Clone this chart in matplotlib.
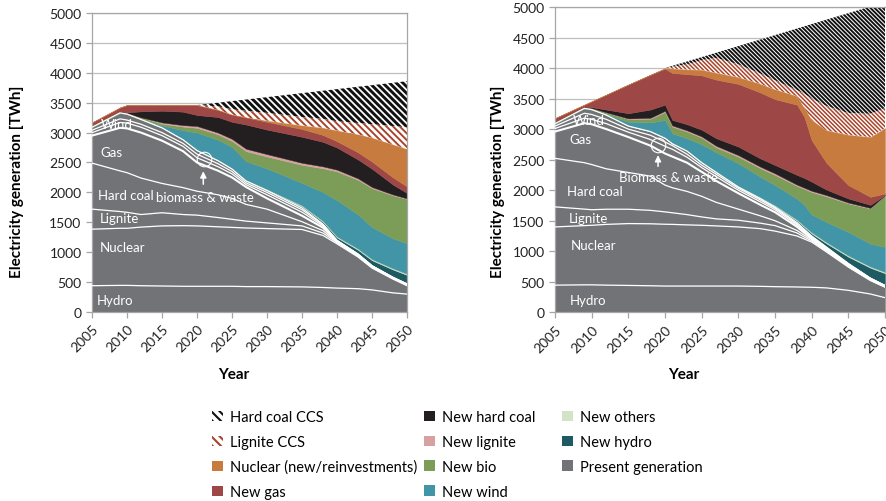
import numpy as np
import matplotlib.pyplot as plt
from matplotlib.patches import Patch

plt.rcParams['font.family'] = ['Lato', 'DejaVu Sans']
plt.rcParams['hatch.linewidth'] = 1.5

# ---- left scenario -------------------------------------------------------
years_l = [2005, 2009, 2010, 2012, 2015, 2018, 2020, 2023, 2025, 2027, 2030,
           2035, 2038, 2040, 2043, 2045, 2048, 2050]

# present generation, split by the white lines
l_hydro = [440, 445, 445, 440, 435, 430, 430, 430, 430, 425, 425, 420, 410, 400, 390, 370, 320, 300]
l_nuclear = [945, 955, 955, 980, 1005, 1014, 1010, 995, 985, 980, 970, 960, 870, 740, 530, 365, 230, 140]
l_lignite = [335, 280, 267, 210, 220, 186, 180, 155, 135, 115, 95, 60, 40, 20, 15, 13, 8, 8]
l_hardcoal = [770, 680, 663, 610, 490, 450, 400, 380, 350, 280, 230, 70, 40, 10, 10, 7, 6, 6]
l_gas = [460, 720, 740, 760, 715, 610, 480, 403, 350, 290, 180, 100, 50, 10, 10, 7, 6, 6]
l_biomass = [50, 90, 90, 90, 85, 80, 80, 67, 60, 40, 60, 60, 30, 10, 7, 6, 4, 4]
l_others = [40, 60, 50, 50, 50, 50, 60, 50, 40, 30, 40, 40, 20, 5, 4, 4, 3, 3]
l_wind = [50, 100, 100, 80, 80, 60, 60, 50, 40, 30, 30, 30, 10, 5, 4, 3, 3, 3]

l_new_hydro = [0, 0, 0, 0, 0, 0, 0, 0, 0, 5, 10, 25, 35, 45, 70, 90, 130, 150]
l_new_others = [0, 0, 0, 5, 8, 10, 12, 12, 14, 15, 15, 18, 18, 18, 20, 20, 20, 20]
l_new_wind = [0, 0, 0, 5, 32, 150, 288, 338, 356, 310, 345, 377, 480, 607, 570, 535, 500, 510]
l_new_bio = [20, 20, 20, 25, 30, 60, 80, 90, 100, 170, 200, 300, 400, 480, 580, 650, 720, 740]
l_new_lignite = [0, 0, 0, 0, 20, 25, 30, 30, 35, 40, 40, 35, 32, 30, 25, 20, 15, 10]
l_new_hardcoal = [0, 0, 10, 100, 196, 225, 184, 260, 285, 405, 410, 435, 410, 370, 315, 305, 165, 90]
l_new_gas = [60, 70, 120, 105, 94, 110, 166, 120, 120, 120, 130, 130, 115, 105, 120, 120, 120, 110]
l_nuclear_new = [0, 0, 0, 0, 0, 0, 0, 0, 0, 0, 20, 60, 120, 180, 300, 400, 550, 625]
l_lignite_ccs = [0, 0, 0, 0, 0, 0, 0, 60, 90, 110, 130, 140, 150, 155, 190, 225, 310, 365]
l_hardcoal_ccs = [0, 0, 0, 0, 0, 0, 0, 60, 137, 188, 263, 400, 470, 537, 607, 653, 723, 770]

# ---- right scenario ------------------------------------------------------
years_r = [2005, 2009, 2010, 2012, 2015, 2018, 2020, 2021, 2023, 2025, 2027,
           2030, 2033, 2035, 2038, 2039, 2040, 2042, 2045, 2048, 2050]

r_hydro = [445, 450, 450, 445, 440, 435, 430, 430, 430, 430, 430, 430, 425, 420, 415, 412, 410, 400, 360, 300, 240]
r_nuclear = [953, 970, 975, 995, 1013, 1015, 1012, 1010, 1002, 995, 985, 968, 945, 910, 835, 788, 740, 590, 380, 220, 170]
r_lignite = [329, 270, 255, 248, 235, 220, 203, 190, 168, 137, 115, 110, 90, 90, 50, 30, 20, 15, 15, 12, 8]
r_hardcoal = [795, 760, 740, 662, 602, 560, 438, 410, 380, 338, 270, 182, 120, 80, 40, 30, 20, 15, 13, 8, 6]
r_gas = [438, 647, 660, 650, 580, 500, 517, 510, 470, 400, 350, 260, 180, 140, 60, 40, 20, 20, 12, 8, 6]
r_biomass = [50, 83, 80, 90, 80, 100, 120, 120, 90, 70, 70, 50, 50, 40, 30, 25, 15, 12, 8, 5, 4]
r_others = [40, 80, 80, 70, 50, 70, 70, 60, 50, 40, 40, 30, 30, 25, 20, 20, 15, 10, 7, 4, 3]
r_wind = [40, 80, 80, 70, 50, 60, 60, 30, 50, 40, 30, 20, 20, 15, 20, 15, 10, 8, 5, 3, 3]

r_new_hydro = [0, 0, 0, 0, 0, 0, 0, 0, 0, 0, 0, 5, 10, 15, 30, 35, 40, 60, 110, 170, 200]
r_new_others = [0, 0, 0, 5, 8, 10, 12, 12, 12, 14, 15, 15, 15, 18, 18, 18, 20, 20, 20, 20, 20]
r_new_wind = [0, 0, 0, 10, 62, 140, 288, 158, 198, 286, 315, 370, 335, 330, 342, 347, 290, 330, 386, 374, 409]
r_new_bio = [20, 20, 25, 25, 45, 60, 130, 110, 110, 110, 80, 109, 140, 167, 210, 260, 370, 420, 466, 576, 850]
r_new_lignite = [0, 0, 0, 5, 10, 15, 20, 20, 20, 20, 25, 25, 25, 25, 20, 20, 20, 20, 15, 10, 0]
r_new_hardcoal = [0, 0, 15, 45, 85, 135, 100, 90, 100, 110, 125, 140, 135, 137, 160, 160, 150, 90, 67, 50, 0]
r_new_gas = [70, 40, 95, 245, 470, 570, 590, 770, 820, 890, 960, 1026, 1080, 1078, 1150, 1000, 680, 440, 219, 131, 27]
r_nuclear_new = [0, 0, 0, 0, 0, 0, 10, 70, 75, 90, 110, 110, 140, 160, 140, 150, 330, 530, 822, 979, 1069]
r_lignite_ccs = [0, 0, 0, 0, 0, 0, 0, 30, 85, 160, 246, 210, 170, 150, 100, 230, 350, 400, 357, 380, 329]
r_hardcoal_ccs = [0, 0, 0, 0, 0, 0, 0, 16, 48, 50, 86, 300, 558, 740, 1008, 1104, 1220, 1412, 1638, 1758, 1736]

GRAY = '#717376'
# face, edge (= hatch colour), hatched?
new_styles = [
    ('#1d5a62', '#1d5a62', False),   # new hydro
    ('#d3e4c5', '#d3e4c5', False),   # new others
    ('#4195a7', '#4195a7', False),   # new wind
    ('#7b9d57', '#7b9d57', False),   # new bio
    ('#d8a1a1', '#d8a1a1', False),   # new lignite
    ('#231f20', '#231f20', False),   # new hard coal
    ('#9d4747', '#9d4747', False),   # new gas
    ('#c87b3f', '#c87b3f', False),   # nuclear new
    ('white', '#a8442c', True),      # lignite CCS
    ('white', '#111111', True),      # hard coal CCS
]


def draw_panel(ax, years, present, new, hatch, hatch_lw):
    layers = np.array(present + new, dtype=float)
    tops = np.cumsum(layers, axis=0)
    bottoms = np.vstack([np.zeros(len(years)), tops[:-1]])
    n_p = len(present)
    for k in range(len(layers)):
        if k < n_p:
            fc, ec, hatched = GRAY, GRAY, False
        else:
            fc, ec, hatched = new_styles[k - n_p]
        if hatched:
            coll = ax.fill_between(years, bottoms[k], tops[k], facecolor=fc,
                                   edgecolor=ec, hatch=hatch, linewidth=0,
                                   zorder=2)
            if hasattr(coll, 'set_hatch_linewidth'):
                coll.set_hatch_linewidth(hatch_lw[k - n_p - 8])
        else:
            ax.fill_between(years, bottoms[k], tops[k], facecolor=fc,
                            edgecolor=ec, linewidth=0.3, zorder=2)
    # white boundaries inside the present generation
    for k in range(n_p):
        lw = 1.5 if k == 4 else 0.9
        ax.plot(years, tops[k], color='white', lw=lw, zorder=3,
                solid_joinstyle='round')

    ax.set_xlim(2005, 2050)
    ax.set_ylim(0, 5000)
    ax.set_xticks(range(2005, 2051, 5))
    ax.set_yticks(range(0, 5001, 500))
    ax.grid(axis='y', color='#bfbfbf', lw=0.9, zorder=0)
    ax.set_axisbelow(True)
    for s in ax.spines.values():
        s.set_color('#a6a6a6')
        s.set_linewidth(0.9)
    ax.tick_params(axis='both', colors='#a6a6a6', labelcolor='#222222',
                   labelsize=10, length=4, width=0.9)
    plt.setp(ax.get_xticklabels(), rotation=45, ha='right',
             rotation_mode='anchor')
    ax.set_ylabel('Electricity generation [TWh]', fontsize=11,
                  fontweight='bold')
    ax.set_xlabel('Year', fontsize=11, fontweight='bold')


def label_layers(ax, spots, circle, arrow, bio_text):
    for txt, x, y in spots:
        ax.text(x, y, txt, color='white', fontsize=9.5, va='center',
                ha='left', zorder=4)
    ax.plot(circle[0], circle[1], 'o', ms=10.5, mfc='none', mec='white',
            mew=0.8, zorder=4)
    ax.annotate('', xy=(arrow[0], arrow[1]), xytext=(arrow[0], arrow[2]),
                arrowprops=dict(arrowstyle='-|>', color='white', lw=1.1,
                                mutation_scale=9), zorder=4)
    ax.text(bio_text[1], bio_text[2], bio_text[0], color='white',
            fontsize=9.5, va='center', ha='center', zorder=4)


fig = plt.figure(figsize=(8.87, 5.02), dpi=100)
axl = fig.add_axes([92 / 887, 189 / 502, 315 / 887, 299 / 502])
axr = fig.add_axes([555 / 887, 188.7 / 502, 330 / 887, 305.3 / 502])

draw_panel(axl, years_l,
           [l_hydro, l_nuclear, l_lignite, l_hardcoal, l_gas, l_biomass, l_others, l_wind],
           [l_new_hydro, l_new_others, l_new_wind, l_new_bio, l_new_lignite,
            l_new_hardcoal, l_new_gas, l_nuclear_new, l_lignite_ccs, l_hardcoal_ccs],
           '\\' * 5, (1.4, 2.1))
draw_panel(axr, years_r,
           [r_hydro, r_nuclear, r_lignite, r_hardcoal, r_gas, r_biomass, r_others, r_wind],
           [r_new_hydro, r_new_others, r_new_wind, r_new_bio, r_new_lignite,
            r_new_hardcoal, r_new_gas, r_nuclear_new, r_lignite_ccs, r_hardcoal_ccs],
           '\\' * 8, (1.1, 1.4))

label_layers(axl, [('Wind', 2006.3, 3140), ('Gas', 2006.2, 2680),
                   ('Hard coal', 2005.9, 1960), ('Lignite', 2006.1, 1570),
                   ('Nuclear', 2006.1, 1090), ('Hydro', 2005.7, 200)],
             (2021.0, 2560), (2020.9, 2400, 2090),
             ('biomass & waste', 2021.1, 1925))
label_layers(axr, [('Wind', 2007.4, 3150), ('Gas', 2007.0, 2840),
                   ('Hard coal', 2006.6, 1985), ('Lignite', 2006.9, 1545),
                   ('Nuclear', 2007.2, 1100), ('Hydro', 2007.0, 200)],
             (2019.05, 2740), (2019.05, 2620, 2345),
             ('Biomass & waste', 2020.5, 2215))

axl.yaxis.set_label_coords(-0.215, 0.44)
axr.yaxis.set_label_coords(-0.15, 0.43)
axl.xaxis.set_label_coords(0.45, -0.185)
axr.xaxis.set_label_coords(0.39, -0.18)
axr.spines['right'].set_visible(False)

legend_cols = [
    (212, [Patch(facecolor='white', edgecolor='#111111', hatch='\\' * 4, lw=0, label='Hard coal CCS'),
           Patch(facecolor='white', edgecolor='#a8442c', hatch='\\' * 4, lw=0, label='Lignite CCS'),
           Patch(facecolor='#c87b3f', label='Nuclear (new/reinvestments)'),
           Patch(facecolor='#9d4747', label='New gas')]),
    (424, [Patch(facecolor='#231f20', label='New hard coal'),
           Patch(facecolor='#d8a1a1', label='New lignite'),
           Patch(facecolor='#7b9d57', label='New bio'),
           Patch(facecolor='#4195a7', label='New wind')]),
    (562, [Patch(facecolor='#d3e4c5', label='New others'),
           Patch(facecolor='#1d5a62', label='New hydro'),
           Patch(facecolor=GRAY, label='Present generation')]),
]
for x0, hs in legend_cols:
    fig.legend(handles=hs, loc='upper left',
               bbox_to_anchor=(x0 / 887, 1 - 411 / 502),
               ncol=1, frameon=False, fontsize=10.5, handlelength=0.75,
               handleheight=0.75, handletextpad=0.5, labelspacing=0.75,
               borderaxespad=0, borderpad=0)

fig.savefig('out.png', dpi=100)
